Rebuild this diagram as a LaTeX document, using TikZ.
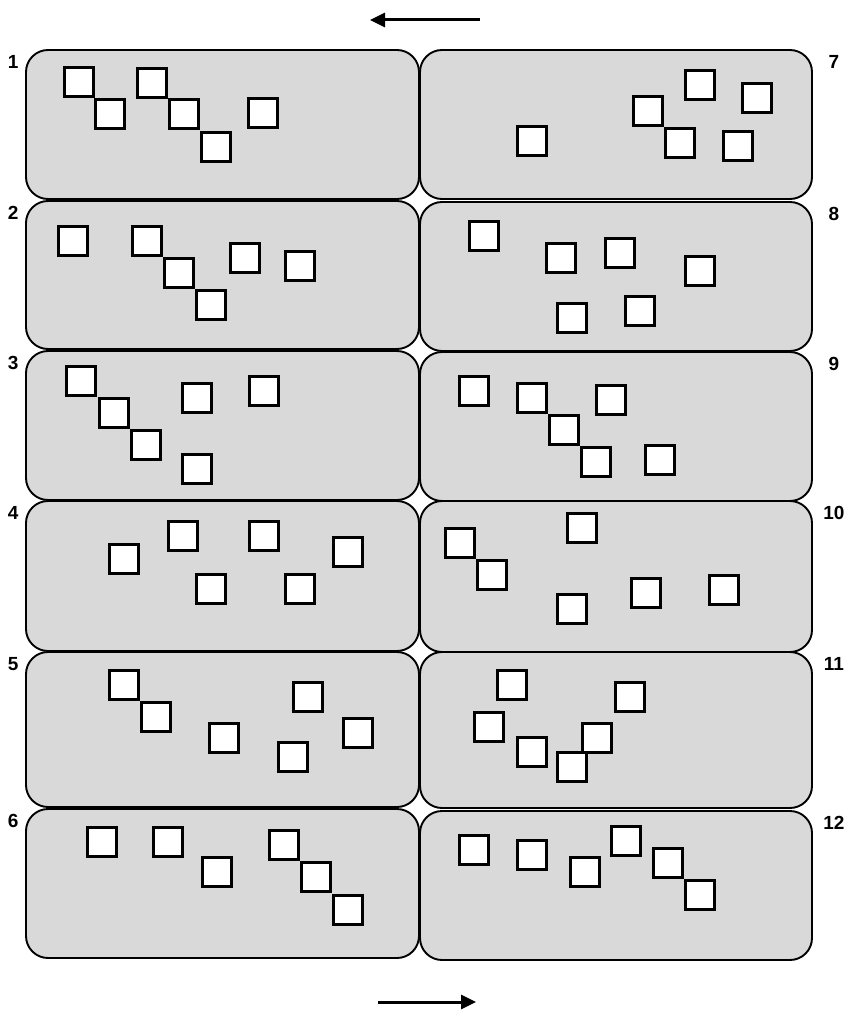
\documentclass[tikz,border=0pt]{standalone}
\usepackage{fontspec}
\setmainfont{Liberation Sans}
\usetikzlibrary{arrows.meta}
\definecolor{pangray}{RGB}{217,217,217}
\begin{document}
\begin{tikzpicture}[x=1pt,y=-1pt,>={Triangle[length=15pt,width=14pt]},
  pan/.style={draw,line width=1.9pt,fill=pangray,rounded corners=22pt,inner sep=0pt},
  sq/.style={draw,line width=2.2pt,fill=white,minimum size=29pt,inner sep=0pt},
  num/.style={font=\bfseries\fontsize{19}{21}\selectfont,inner sep=0pt}]
  \useasboundingbox (0,0) rectangle (848,1011);
  \foreach \i/\cx/\w/\t/\b in {1/222.5/393/50/199,2/222.5/393/201/349,3/222.5/393/351/500,
    4/222.5/393/501/651,5/222.5/393/652/807,6/222.5/393/809/958,
    7/616/392/50/199,8/616/392/202/351,9/616/392/352/501,
    10/616/392/501/652,11/616/392/652/808,12/616/392/811/960}
    \node[pan,minimum width=\w pt,minimum height={(\b-\t)*1pt}] (p\i) at (\cx,{(\t+\b)/2}) {};
  \foreach \i in {1,...,6}
    \node[num] (n\i) at ([shift={(-12,13)}]p\i.north west) {\i};
  \foreach \i in {7,...,12}
    \node[num] (n\i) at ([shift={(21,13)}]p\i.north east) {\i};
  \foreach \x/\y [count=\k] in {79/82,110/114,152/83,184/114,216/147,263/113,
    73/241,147/241,179/273,211/305,245/258,300/266,
    81/381,114/413,146/445,197/398,197/469,264/391,
    124/559,183/536,264/536,211/589,300/589,348/552,
    124/685,156/717,224/738,308/697,293/757,358/733,
    102/842,168/842,217/872,284/845,316/877,348/910,
    532/141,700/85,757/98,648/111,680/143,738/146,
    484/236,561/258,620/253,700/271,572/318,640/311,
    474/391,532/398,611/400,564/430,596/462,660/460,
    460/543,492/575,582/528,572/609,646/593,724/590,
    512/685,630/697,489/727,532/752,597/738,572/767,
    474/850,532/855,585/872,626/841,668/863,700/895}
    \node[sq] (q\k) at (\x,\y) {};
  \coordinate (a1) at (480,20);
  \coordinate (a2) at (370,20);
  \coordinate (b1) at (378,1002);
  \coordinate (b2) at (476,1002);
  \draw[->,line width=3pt] (a1) -- (a2);
  \draw[->,line width=3pt] (b1) -- (b2);
\end{tikzpicture}
\end{document}
